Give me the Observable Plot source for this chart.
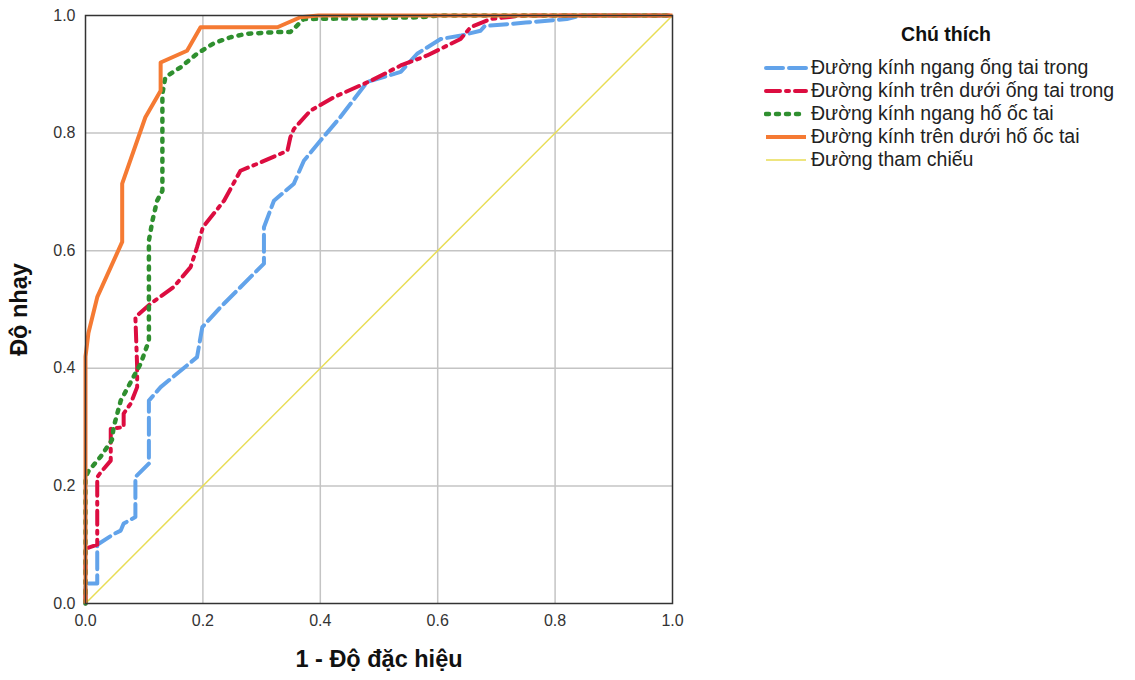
<!DOCTYPE html>
<html>
<head>
<meta charset="utf-8">
<script src="https://cdn.jsdelivr.net/npm/d3@7"></script>
<script src="https://cdn.jsdelivr.net/npm/@observablehq/plot@0.6"></script>
<style>
  body { margin: 0; background: #fff; font-family: "Liberation Sans", Arial, sans-serif; }
  #wrap { position: relative; width: 1135px; height: 680px; }
  #legend { position: absolute; left: 764px; top: 22px; font-family: "Liberation Sans", Arial, sans-serif; }
  #legend .title { font-weight: bold; font-size: 19.5px; line-height: 24px; text-align: center; margin-left: 92px; width: 180px; margin-bottom: 10px; color: #111; }
  #legend .row { display: flex; align-items: center; height: 23px; font-size: 19.5px; color: #222; white-space: nowrap; }
  #legend svg { margin-right: 3px; flex: none; }
</style>
</head>
<body>
<div id="wrap"><div id="chart"></div><div id="legend"></div></div>
<script>
// Series names
const seriesNames = [
  "Đường kính ngang ống tai trong",
  "Đường kính trên dưới ống tai trong",
  "Đường kính ngang hố ốc tai",
  "Đường kính trên dưới hố ốc tai",
  "Đường tham chiếu"
];
const ticks = [0, 0.2, 0.4, 0.6, 0.8, 1.0];

// Blue: Đường kính ngang ống tai trong
const blueX = [0, 0, 0.02, 0.02, 0.048, 0.06, 0.065, 0.085, 0.085, 0.108, 0.108, 0.128, 0.19, 0.199, 0.23, 0.304, 0.304, 0.321, 0.355, 0.372, 0.40, 0.434, 0.48, 0.537, 0.565, 0.605, 0.64, 0.673, 0.68, 0.75, 0.82, 0.845, 1];
const blueY = [0, 0.034, 0.034, 0.10, 0.118, 0.124, 0.136, 0.147, 0.215, 0.238, 0.345, 0.368, 0.419, 0.47, 0.504, 0.578, 0.64, 0.685, 0.714, 0.753, 0.787, 0.827, 0.887, 0.904, 0.935, 0.96, 0.966, 0.974, 0.982, 0.988, 0.994, 1, 1];

// Red: Đường kính trên dưới ống tai trong
const redX = [0, 0, 0.02, 0.02, 0.026, 0.043, 0.043, 0.065, 0.065, 0.077, 0.088, 0.088, 0.085, 0.111, 0.15, 0.179, 0.19, 0.2, 0.236, 0.264, 0.298, 0.344, 0.349, 0.355, 0.383, 0.423, 0.486, 0.537, 0.582, 0.639, 0.656, 0.69, 0.746, 1];
const redY = [0, 0.093, 0.10, 0.215, 0.223, 0.243, 0.297, 0.30, 0.323, 0.34, 0.368, 0.402, 0.487, 0.51, 0.538, 0.572, 0.606, 0.64, 0.685, 0.736, 0.75, 0.77, 0.793, 0.807, 0.838, 0.861, 0.889, 0.915, 0.932, 0.96, 0.98, 0.994, 1, 1];

// Green: Đường kính ngang hố ốc tai
const greenX = [0, 0, 0.005, 0.026, 0.045, 0.048, 0.06, 0.094, 0.108, 0.108, 0.114, 0.122, 0.131, 0.131, 0.136, 0.162, 0.19, 0.219, 0.247, 0.275, 0.332, 0.349, 0.372, 0.45, 0.57, 0.6, 1];
const greenY = [0, 0.215, 0.225, 0.25, 0.278, 0.30, 0.345, 0.408, 0.447, 0.617, 0.651, 0.685, 0.702, 0.867, 0.895, 0.912, 0.935, 0.953, 0.963, 0.969, 0.972, 0.972, 0.994, 0.995, 0.997, 1, 1];

// Orange: Đường kính trên dưới hố ốc tai
const orangeX = [0, 0, 0.005, 0.02, 0.0625, 0.0625, 0.102, 0.128, 0.128, 0.173, 0.196, 0.327, 0.366, 0.397, 1];
const orangeY = [0, 0.42, 0.46, 0.521, 0.615, 0.714, 0.827, 0.872, 0.92, 0.94, 0.98, 0.98, 0.997, 1, 1];

// Reference
const refX = [0, 1];
const refY = [0, 1];

const styles = [
  {stroke: "#62a3ea", strokeWidth: 4, strokeDasharray: "17,6", strokeLinecap: "round"},
  {stroke: "#dc0d40", strokeWidth: 4, strokeDasharray: "14,6,3,6", strokeLinecap: "round"},
  {stroke: "#2f8f2f", strokeWidth: 4.5, strokeDasharray: "3,7", strokeLinecap: "round"},
  {stroke: "#f57a33", strokeWidth: 4, strokeDasharray: null, strokeLinecap: "butt"},
  {stroke: "#e8dd55", strokeWidth: 1.5, strokeDasharray: null, strokeLinecap: "butt"}
];

const toRows = (xs, ys) => xs.map((x, i) => ({x, y: ys[i]}));
const series = [toRows(blueX, blueY), toRows(redX, redY), toRows(greenX, greenY), toRows(orangeX, orangeY), toRows(refX, refY)];

const lineMark = (k) => Plot.line(series[k], {x: "x", y: "y", curve: "linear",
  stroke: styles[k].stroke, strokeWidth: styles[k].strokeWidth,
  strokeDasharray: styles[k].strokeDasharray || undefined,
  strokeLinecap: styles[k].strokeLinecap, strokeLinejoin: "round"});

const chart = Plot.plot({
  width: 1135,
  height: 680,
  marginLeft: 85,
  marginRight: 463,
  marginTop: 15,
  marginBottom: 77,
  style: {fontFamily: "Liberation Sans, Arial, sans-serif", fontSize: "16px", color: "#333", background: "#fff"},
  x: {domain: [0, 1], ticks: ticks, tickFormat: d3.format(".1f"), label: null},
  y: {domain: [0, 1], ticks: ticks, tickFormat: d3.format(".1f"), label: null},
  marks: [
    Plot.gridX(ticks.slice(1, -1), {stroke: "#c4c4c4", strokeOpacity: 1, strokeWidth: 1.5}),
    Plot.gridY(ticks.slice(1, -1), {stroke: "#c4c4c4", strokeOpacity: 1, strokeWidth: 1.5}),
    Plot.axisX(ticks, {tickSize: 0, tickPadding: 11, tickFormat: d3.format(".1f"), fontSize: 16, label: null}),
    Plot.axisY(ticks, {tickSize: 0, tickPadding: 10, tickFormat: d3.format(".1f"), fontSize: 16, label: null}),
    lineMark(4),
    lineMark(0),
    lineMark(1),
    lineMark(2),
    lineMark(3),
    Plot.frame({stroke: "#333", strokeWidth: 1.5}),
    Plot.text(["1 - Độ đặc hiệu"], {frameAnchor: "bottom", dy: 63, fontSize: 23.5, fontWeight: "bold", fill: "#111"}),
    Plot.text(["Độ nhạy"], {frameAnchor: "left", textAnchor: "middle", dx: -66, rotate: -90, fontSize: 23.5, fontWeight: "bold", fill: "#111"})
  ]
});
document.getElementById("chart").appendChild(chart);

// Legend
const legend = document.getElementById("legend");
const t = document.createElement("div");
t.className = "title";
t.textContent = "Chú thích";
legend.appendChild(t);
seriesNames.forEach((name, k) => {
  const row = document.createElement("div");
  row.className = "row";
  const s = styles[k];
  const sw = d3.create("svg").attr("width", 44).attr("height", 12);
  sw.append("line").attr("x1", 2).attr("x2", 42).attr("y1", 6).attr("y2", 6)
    .attr("stroke", s.stroke).attr("stroke-width", s.strokeWidth)
    .attr("stroke-dasharray", s.strokeDasharray)
    .attr("stroke-linecap", s.strokeLinecap);
  row.appendChild(sw.node());
  const span = document.createElement("span");
  span.textContent = name;
  row.appendChild(span);
  legend.appendChild(row);
});
</script>
</body>
</html>
